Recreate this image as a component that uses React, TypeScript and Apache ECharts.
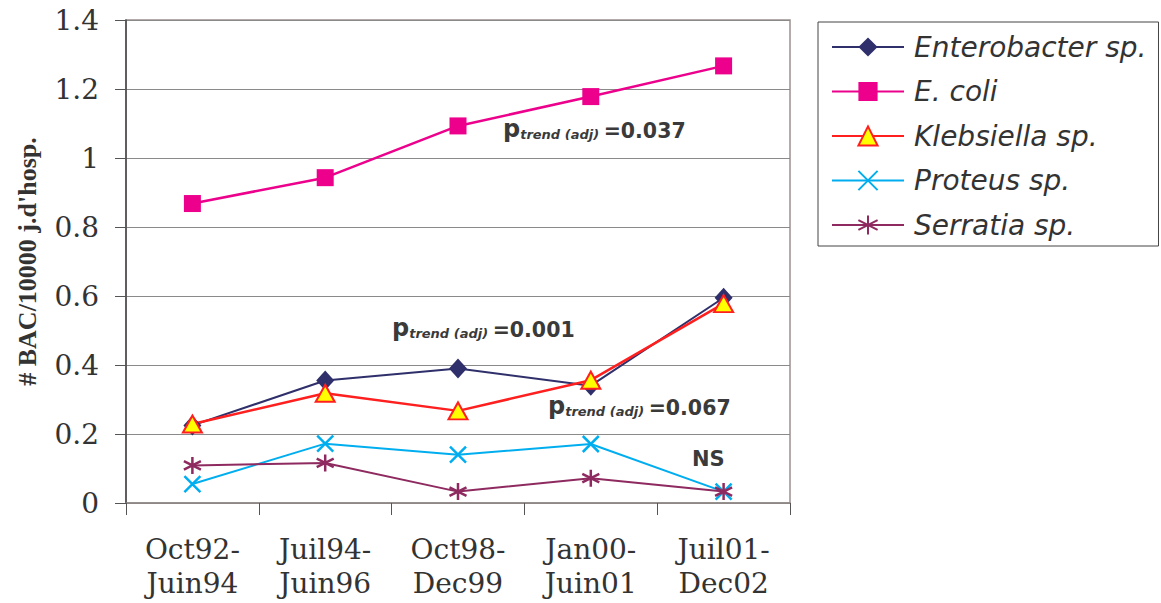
import React, { useEffect, useRef } from "react";
import * as echarts from "echarts";

// Periods on the x axis (two-line labels)
const categories = [
  "Oct92-\nJuin94",
  "Juil94-\nJuin96",
  "Oct98-\nDec99",
  "Jan00-\nJuin01",
  "Juil01-\nDec02",
];

// Bacteraemia rate per 10000 hospital days, by species
const enterobacter = [0.225, 0.355, 0.39, 0.34, 0.595];
const ecoli = [0.868, 0.943, 1.093, 1.178, 1.267];
const klebsiella = [0.229, 0.318, 0.267, 0.356, 0.578];
const proteus = [0.055, 0.172, 0.14, 0.171, 0.033];
const serratia = [0.109, 0.116, 0.033, 0.072, 0.033];

const seriesNames = [
  "Enterobacter sp.",
  "E. coli",
  "Klebsiella sp.",
  "Proteus sp.",
  "Serratia sp.",
];

// Adjusted trend p-values shown beside the curves
const trendValues = ["0.037", "0.001", "0.067"];
const nsLabel = "NS";

const yTickMax = 1.4;
const yTickStep = 0.2;

const CROSS = "path://M0,0L10,10M10,0L0,10";
const STAR = "path://M5,0L5,10M0.7,2.5L9.3,7.5M9.3,2.5L0.7,7.5";

const tickFont = "DejaVu Serif";
const nameFont = "Liberation Serif";
const annoFont = "DejaVu Sans";
const annoColor = "#3a3a3a";

function trendText(value: string, x: number, y: number) {
  return {
    type: "text",
    x,
    y,
    z: 10,
    style: {
      text: `{p|p}{t|trend (adj) }{v|=${value}}`,
      verticalAlign: "middle",
      rich: {
        p: {
          fontFamily: annoFont,
          fontWeight: "bold",
          fontSize: 24,
          lineHeight: 28,
          verticalAlign: "bottom",
          fill: annoColor,
        },
        t: {
          fontFamily: annoFont,
          fontWeight: "bold",
          fontStyle: "italic",
          fontSize: 13,
          lineHeight: 15,
          verticalAlign: "bottom",
          fill: annoColor,
        },
        v: {
          fontFamily: annoFont,
          fontWeight: "bold",
          fontSize: 20.5,
          lineHeight: 24,
          verticalAlign: "bottom",
          fill: annoColor,
        },
      },
    },
  };
}

export default function App() {
  const ref = useRef<HTMLDivElement>(null);

  useEffect(() => {
    if (!ref.current) return;
    const chart = echarts.init(ref.current, null, { renderer: "svg" });

    chart.setOption({
      animation: false,
      backgroundColor: "#ffffff",
      grid: {
        left: 126,
        right: 371,
        top: 20,
        bottom: 100,
        show: true,
        borderColor: "#9a918f",
        borderWidth: 1.5,
        backgroundColor: "transparent",
      },
      legend: {
        orient: "vertical",
        left: 818,
        top: 22,
        padding: [11, 12, 7, 13],
        borderColor: "#444",
        borderWidth: 1,
        itemWidth: 72,
        itemHeight: 24,
        itemGap: 16.5,
        data: seriesNames,
        textStyle: {
          fontFamily: "DejaVu Sans",
          fontStyle: "italic",
          fontSize: 28,
          color: "#333",
          padding: [0, 0, 0, 5],
        },
      },
      xAxis: {
        type: "category",
        data: categories,
        boundaryGap: true,
        axisLine: { lineStyle: { color: "#8f8785", width: 1.5 } },
        axisTick: {
          show: true,
          length: 12,
          alignWithLabel: false,
          lineStyle: { color: "#555", width: 1 },
        },
        axisLabel: {
          margin: 29,
          interval: 0,
          fontFamily: tickFont,
          fontSize: 28,
          lineHeight: 34,
          color: "#333",
        },
      },
      yAxis: {
        type: "value",
        min: 0,
        max: yTickMax,
        interval: yTickStep,
        name: "# BAC/10000 j.d'hosp.",
        nameLocation: "middle",
        nameGap: 86,
        nameTextStyle: {
          fontFamily: nameFont,
          fontWeight: "bold",
          fontSize: 26,
          color: "#333",
        },
        axisLine: { show: true, lineStyle: { color: "#444", width: 1.5 } },
        axisTick: {
          show: true,
          length: 11,
          lineStyle: { color: "#555", width: 1 },
        },
        axisLabel: {
          margin: 27,
          fontFamily: tickFont,
          fontSize: 28,
          color: "#333",
        },
        splitLine: { show: true, lineStyle: { color: "#8a8a8a", width: 1 } },
      },
      series: [
        {
          name: seriesNames[0],
          type: "line",
          data: enterobacter,
          symbol: "diamond",
          symbolSize: [18, 20],
          lineStyle: { color: "#2f2f6b", width: 2 },
          itemStyle: { color: "#2f2f6b", borderWidth: 0 },
        },
        {
          name: seriesNames[1],
          type: "line",
          data: ecoli,
          symbol: "rect",
          symbolSize: 17,
          lineStyle: { color: "#ec008c", width: 2.5 },
          itemStyle: { color: "#ec008c", borderWidth: 0 },
        },
        {
          name: seriesNames[2],
          type: "line",
          data: klebsiella,
          symbol: "triangle",
          symbolSize: [19, 17],
          lineStyle: { color: "#ff1f1f", width: 2.5 },
          itemStyle: { color: "#ffff00", borderColor: "#ff1f1f", borderWidth: 2 },
        },
        {
          name: seriesNames[3],
          type: "line",
          data: proteus,
          symbol: CROSS,
          symbolSize: 16,
          lineStyle: { color: "#00aeef", width: 2 },
          itemStyle: { color: "#00aeef", borderColor: "#00aeef", borderWidth: 2.5 },
        },
        {
          name: seriesNames[4],
          type: "line",
          data: serratia,
          symbol: STAR,
          symbolSize: 17,
          lineStyle: { color: "#8e2a5f", width: 2 },
          itemStyle: { color: "#8e2a5f", borderColor: "#8e2a5f", borderWidth: 2.5 },
        },
      ],
      graphic: [
        trendText(trendValues[0], 503, 127),
        trendText(trendValues[1], 392, 326),
        trendText(trendValues[2], 548, 404),
        {
          type: "text",
          x: 692,
          y: 459,
          z: 10,
          style: {
            text: nsLabel,
            fontFamily: annoFont,
            fontWeight: "bold",
            fontSize: 21,
            verticalAlign: "middle",
            fill: annoColor,
          },
        },
      ],
    });

    return () => chart.dispose();
  }, []);

  return (
    <div
      ref={ref}
      style={{ position: "absolute", left: 0, top: 0, width: 1161, height: 603 }}
    />
  );
}
